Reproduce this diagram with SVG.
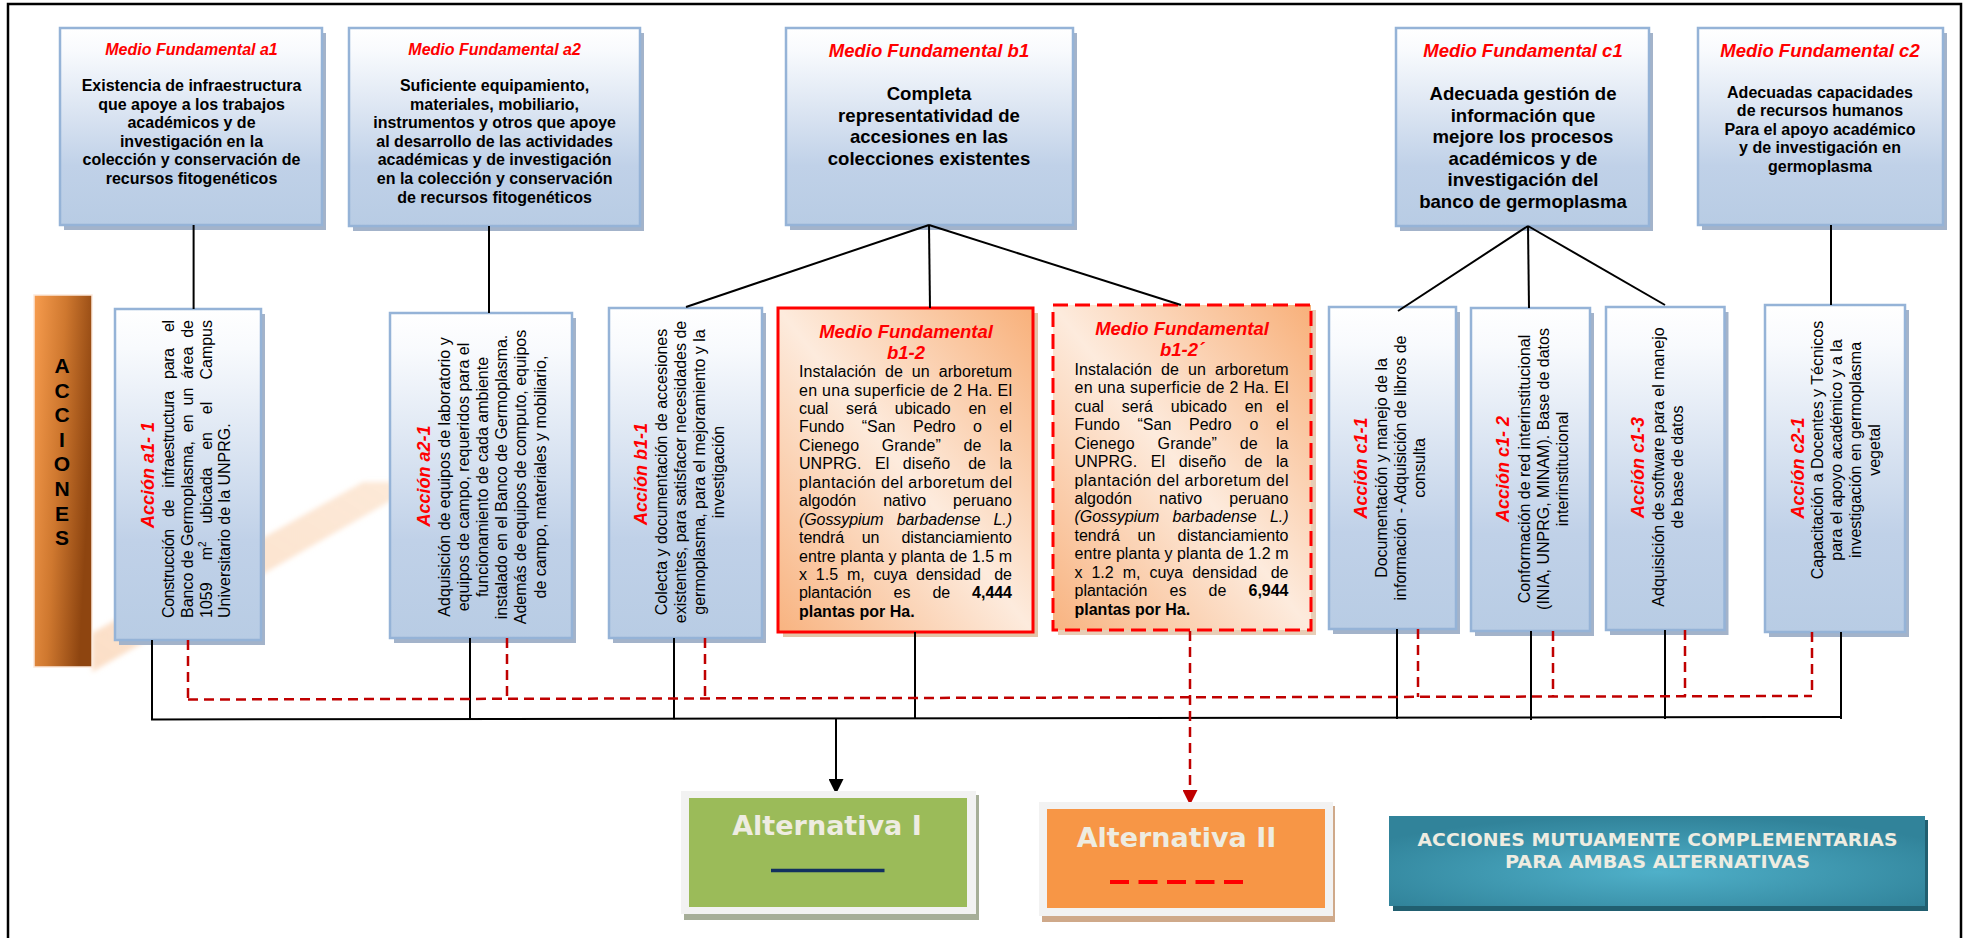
<svg xmlns="http://www.w3.org/2000/svg" width="1969" height="938" viewBox="0 0 1969 938">
<defs>
<linearGradient id="gBlue" x1="0" y1="0" x2="0" y2="1">
<stop offset="0" stop-color="#FFFFFF"/><stop offset="0.12" stop-color="#F8FAFD"/><stop offset="0.7" stop-color="#C0D1E8"/><stop offset="1" stop-color="#B8CCE4"/>
</linearGradient>
<linearGradient id="gOr" x1="1" y1="0" x2="0" y2="1">
<stop offset="0" stop-color="#F8B07A"/><stop offset="0.5" stop-color="#FDEBDD"/><stop offset="1" stop-color="#F8B380"/>
</linearGradient>
<linearGradient id="gBar" x1="0" y1="0" x2="1" y2="0.35">
<stop offset="0" stop-color="#F79C4E"/><stop offset="0.5" stop-color="#CF782F"/><stop offset="1" stop-color="#8E4510"/>
</linearGradient>
<linearGradient id="gBand" x1="0" y1="1" x2="1" y2="0">
<stop offset="0" stop-color="#FBD9BD" stop-opacity="0.85"/><stop offset="1" stop-color="#FCE1CA" stop-opacity="0.75"/>
</linearGradient>
<filter id="soft" x="-10%" y="-10%" width="120%" height="120%"><feGaussianBlur stdDeviation="2.5"/></filter>
<radialGradient id="gTeal" cx="0.5" cy="0.62" r="0.62">
<stop offset="0" stop-color="#4FB0C9"/><stop offset="1" stop-color="#31839A"/>
</radialGradient>
<marker id="arrK" viewBox="0 0 17 15" refX="0" refY="7.5" markerWidth="17" markerHeight="15" markerUnits="userSpaceOnUse" orient="auto"><path d="M0,0 L15,7.5 L0,15 z" fill="#000"/></marker>
<marker id="arrR" viewBox="0 0 17 15" refX="0" refY="7.5" markerWidth="17" markerHeight="15" markerUnits="userSpaceOnUse" orient="auto"><path d="M0,0 L15,7.5 L0,15 z" fill="#C00000"/></marker>
</defs>
<style>
.box{fill:url(#gBlue);stroke:#95B3D7;stroke-width:2.5}
.shd{fill:#A3B3CA}
.mt{font-family:'Liberation Sans',Arial,sans-serif;font-weight:bold;font-style:italic;fill:#FF0000;text-anchor:middle}
.mb{font-family:'Liberation Sans',Arial,sans-serif;font-weight:bold;fill:#000;text-anchor:middle}
.at{font-family:'Liberation Sans',Arial,sans-serif;font-weight:bold;font-style:italic;font-size:18px;fill:#FF0000;text-anchor:middle}
.ab{font-family:'Liberation Sans',Arial,sans-serif;font-size:16px;fill:#000;text-anchor:middle}
.aj{font-family:'Liberation Sans',Arial,sans-serif;font-size:16px;fill:#000;white-space:pre}
.conn{stroke:#000;stroke-width:2;fill:none}
.dash{stroke:#C00000;stroke-width:2.5;stroke-dasharray:10 6;fill:none}
.alt{font-family:'DejaVu Sans',Verdana,sans-serif;font-weight:bold;fill:#EEECE1;text-anchor:middle}
</style>
<rect x="8" y="4" width="1953" height="960" fill="#FFFFFF" stroke="#000" stroke-width="2.5"/>

<g id="band"><polygon points="92,633 363,482 392,482 392,500 92,672" fill="url(#gBand)" filter="url(#soft)"/></g>

<g id="acciones-label">
<rect x="34" y="295" width="58" height="372" fill="url(#gBar)" stroke="#FBE9DB" stroke-width="1.5"/>
<g font-family="'Liberation Sans',Arial,sans-serif" font-weight="bold" font-size="21" text-anchor="middle" fill="#000">
<text x="62" y="373">A</text><text x="62" y="397.6">C</text><text x="62" y="422.2">C</text><text x="62" y="446.8">I</text><text x="62" y="471.4">O</text><text x="62" y="496">N</text><text x="62" y="520.6">E</text><text x="62" y="545.2">S</text>
</g>
</g>

<g id="mf-a1">
<rect class="shd" x="64" y="33" width="262" height="197"/>
<rect class="box" x="60" y="28" width="262" height="197"/>
<text class="mt" x="191.5" y="55" font-size="16">Medio Fundamental a1</text>
<text class="mb" font-size="16"><tspan x="191.5" y="91">Existencia de infraestructura</tspan><tspan x="191.5" y="109.6">que apoye a los trabajos</tspan><tspan x="191.5" y="128.2">académicos y de</tspan><tspan x="191.5" y="146.8">investigación en la</tspan><tspan x="191.5" y="165.4">colección y conservación de</tspan><tspan x="191.5" y="184">recursos fitogenéticos</tspan></text>
</g>

<g id="mf-a2">
<rect class="shd" x="353" y="33" width="291" height="198"/>
<rect class="box" x="349" y="28" width="291" height="198"/>
<text class="mt" x="494.6" y="55" font-size="16">Medio Fundamental a2</text>
<text class="mb" font-size="16"><tspan x="494.6" y="91">Suficiente equipamiento,</tspan><tspan x="494.6" y="109.6">materiales, mobiliario,</tspan><tspan x="494.6" y="128.2">instrumentos y otros que apoye</tspan><tspan x="494.6" y="146.8">al desarrollo de las actividades</tspan><tspan x="494.6" y="165.4">académicas y de investigación</tspan><tspan x="494.6" y="184">en la colección y conservación</tspan><tspan x="494.6" y="202.6">de recursos fitogenéticos</tspan></text>
</g>

<g id="mf-b1">
<rect class="shd" x="790" y="33" width="287" height="197"/>
<rect class="box" x="786" y="28" width="287" height="197"/>
<text class="mt" x="929" y="56.5" font-size="18.5">Medio Fundamental b1</text>
<text class="mb" font-size="18.6"><tspan x="929" y="100">Completa</tspan><tspan x="929" y="121.5">representatividad de</tspan><tspan x="929" y="143">accesiones en las</tspan><tspan x="929" y="164.5">colecciones existentes</tspan></text>
</g>

<g id="mf-c1">
<rect class="shd" x="1400" y="33" width="253" height="198"/>
<rect class="box" x="1396" y="28" width="253" height="198"/>
<text class="mt" x="1523" y="56.5" font-size="18.5">Medio Fundamental c1</text>
<text class="mb" font-size="18.6"><tspan x="1523" y="100">Adecuada gestión de</tspan><tspan x="1523" y="121.5">información que</tspan><tspan x="1523" y="143">mejore los procesos</tspan><tspan x="1523" y="164.5">académicos y de</tspan><tspan x="1523" y="186">investigación del</tspan><tspan x="1523" y="207.5">banco de germoplasma</tspan></text>
</g>

<g id="mf-c2">
<rect class="shd" x="1702" y="33" width="245" height="197"/>
<rect class="box" x="1698" y="28" width="245" height="197"/>
<text class="mt" x="1820" y="56.5" font-size="18.5">Medio Fundamental c2</text>
<text class="mb" font-size="16"><tspan x="1820" y="97.5">Adecuadas capacidades</tspan><tspan x="1820" y="116">de recursos humanos</tspan><tspan x="1820" y="134.5">Para el apoyo académico</tspan><tspan x="1820" y="153">y de investigación en</tspan><tspan x="1820" y="171.5">germoplasma</tspan></text>
</g>

<g id="accion-a1-1">
<rect class="shd" x="119" y="314" width="146" height="331"/>
<rect class="box" x="115" y="309" width="146" height="331"/>
<text class="at" transform="translate(154,475) rotate(-90)">Acción a1- 1</text>
<text class="aj" xml:space="preserve" transform="translate(173.5,618) rotate(-90)" textLength="298" lengthAdjust="spacing">Construcción   de   infraestructura   para    el</text>
<text class="aj" xml:space="preserve" transform="translate(192.5,618) rotate(-90)" textLength="298" lengthAdjust="spacing">Banco de Germoplasma,  en  un  área  de</text>
<text class="aj" xml:space="preserve" transform="translate(211.5,618) rotate(-90)" textLength="298" lengthAdjust="spacing">1059     m<tspan dy="-6" font-size="10">2</tspan><tspan dy="6">    ubicada    en    el     Campus</tspan></text>
<text class="aj" transform="translate(230,618) rotate(-90)">Universitario de la UNPRG.</text>
</g>

<g id="accion-a2-1">
<rect class="shd" x="394" y="318" width="182" height="325"/>
<rect class="box" x="390" y="313" width="182" height="325"/>
<text class="at" transform="translate(429.5,476) rotate(-90)">Acción a2-1</text>
<g transform="translate(0,477) rotate(-90)">
<text class="ab" x="0" y="449.5">Adquisición de equipos de laboratorio y</text>
<text class="ab" x="0" y="468.7">equipos de campo, requeridos para el</text>
<text class="ab" x="0" y="487.9">funcionamiento de cada ambiente</text>
<text class="ab" x="0" y="507.1">instalado en el Banco de Germoplasma.</text>
<text class="ab" x="0" y="526.3">Además de equipos de computo, equipos</text>
<text class="ab" x="0" y="545.5">de campo, materiales y mobiliario,</text>
</g>
</g>

<g id="accion-b1-1">
<rect class="shd" x="613" y="313" width="153" height="330"/>
<rect class="box" x="609" y="308" width="153" height="330"/>
<text class="at" transform="translate(647,474) rotate(-90)">Acción b1-1</text>
<g transform="translate(0,472) rotate(-90)">
<text class="ab" x="0" y="667">Colecta y documentación de accesiones</text>
<text class="ab" x="0" y="686">existentes, para satisfacer necesidades de</text>
<text class="ab" x="0" y="705">germoplasma, para el mejoramiento y la</text>
<text class="ab" x="0" y="724">investigación</text>
</g>
</g>

<g id="mf-b1-2">
<rect x="783" y="313" width="255" height="324" fill="#E3C3A6"/>
<rect x="778" y="308" width="255" height="324" fill="url(#gOr)" stroke="#FF0000" stroke-width="3"/>
<text class="mt" x="906" y="337.5" font-size="18.5">Medio Fundamental</text>
<text class="mt" x="906" y="358.5" font-size="18.5">b1-2</text>
<g font-family="'Liberation Sans',Arial,sans-serif" font-size="16" fill="#000">
<text xml:space="preserve" x="799" y="377" textLength="213" lengthAdjust="spacing" style="white-space:pre">Instalación  de  un  arboretum</text>
<text xml:space="preserve" x="799" y="395.5" textLength="213" lengthAdjust="spacing" style="white-space:pre">en una superficie de 2 Ha. El</text>
<text xml:space="preserve" x="799" y="413.9" textLength="213" lengthAdjust="spacing" style="white-space:pre">cual    será    ubicado    en   el</text>
<text xml:space="preserve" x="799" y="432.4" textLength="213" lengthAdjust="spacing" style="white-space:pre">Fundo    “San    Pedro    o    el</text>
<text xml:space="preserve" x="799" y="450.8" textLength="213" lengthAdjust="spacing" style="white-space:pre">Cienego     Grande”     de    la</text>
<text xml:space="preserve" x="799" y="469.3" textLength="213" lengthAdjust="spacing" style="white-space:pre">UNPRG.   El   diseño    de   la</text>
<text xml:space="preserve" x="799" y="487.7" textLength="213" lengthAdjust="spacing" style="white-space:pre">plantación del arboretum del</text>
<text xml:space="preserve" x="799" y="506.2" textLength="213" lengthAdjust="spacing" style="white-space:pre">algodón      nativo      peruano</text>
<text xml:space="preserve" x="799" y="524.6" textLength="213" lengthAdjust="spacing" style="white-space:pre" font-style="italic">(Gossypium   barbadense   L.)</text>
<text xml:space="preserve" x="799" y="543.1" textLength="213" lengthAdjust="spacing" style="white-space:pre">tendrá    un     distanciamiento</text>
<text xml:space="preserve" x="799" y="561.5" textLength="213" lengthAdjust="spacing" style="white-space:pre">entre planta y planta de 1.5 m</text>
<text xml:space="preserve" x="799" y="580" textLength="213" lengthAdjust="spacing" style="white-space:pre">x  1.5  m,  cuya  densidad   de</text>
<text xml:space="preserve" x="799" y="598.4" textLength="213" lengthAdjust="spacing" style="white-space:pre">plantación     es     de     <tspan font-weight="bold">4,444</tspan></text>
<text x="799" y="616.9" font-weight="bold">plantas por Ha.</text>
</g>
</g>

<g id="mf-b1-2p">
<rect x="1058" y="310" width="258" height="325" fill="#E8CDB6"/>
<rect x="1053" y="305" width="258" height="325" fill="url(#gOr)" stroke="#FF0000" stroke-width="3" stroke-dasharray="15 7"/>
<text class="mt" x="1182" y="334.5" font-size="18.5">Medio Fundamental</text>
<text class="mt" x="1182" y="355.5" font-size="18.5">b1-2´</text>
<g font-family="'Liberation Sans',Arial,sans-serif" font-size="16" fill="#000">
<text xml:space="preserve" x="1074.5" y="374.8" textLength="214" lengthAdjust="spacing" style="white-space:pre">Instalación  de  un  arboretum</text>
<text xml:space="preserve" x="1074.5" y="393.2" textLength="214" lengthAdjust="spacing" style="white-space:pre">en una superficie de 2 Ha. El</text>
<text xml:space="preserve" x="1074.5" y="411.7" textLength="214" lengthAdjust="spacing" style="white-space:pre">cual    será    ubicado    en   el</text>
<text xml:space="preserve" x="1074.5" y="430.1" textLength="214" lengthAdjust="spacing" style="white-space:pre">Fundo    “San    Pedro    o    el</text>
<text xml:space="preserve" x="1074.5" y="448.6" textLength="214" lengthAdjust="spacing" style="white-space:pre">Cienego     Grande”     de    la</text>
<text xml:space="preserve" x="1074.5" y="467" textLength="214" lengthAdjust="spacing" style="white-space:pre">UNPRG.   El   diseño    de   la</text>
<text xml:space="preserve" x="1074.5" y="485.5" textLength="214" lengthAdjust="spacing" style="white-space:pre">plantación del arboretum del</text>
<text xml:space="preserve" x="1074.5" y="503.9" textLength="214" lengthAdjust="spacing" style="white-space:pre">algodón      nativo      peruano</text>
<text xml:space="preserve" x="1074.5" y="522.4" textLength="214" lengthAdjust="spacing" style="white-space:pre" font-style="italic">(Gossypium   barbadense   L.)</text>
<text xml:space="preserve" x="1074.5" y="540.8" textLength="214" lengthAdjust="spacing" style="white-space:pre">tendrá    un     distanciamiento</text>
<text xml:space="preserve" x="1074.5" y="559.3" textLength="214" lengthAdjust="spacing" style="white-space:pre">entre planta y planta de 1.2 m</text>
<text xml:space="preserve" x="1074.5" y="577.7" textLength="214" lengthAdjust="spacing" style="white-space:pre">x  1.2  m,  cuya  densidad   de</text>
<text xml:space="preserve" x="1074.5" y="596.2" textLength="214" lengthAdjust="spacing" style="white-space:pre">plantación     es     de     <tspan font-weight="bold">6,944</tspan></text>
<text x="1074.5" y="614.6" font-weight="bold">plantas por Ha.</text>
</g>
</g>

<g id="accion-c1-1">
<rect class="shd" x="1333" y="312" width="127" height="322"/>
<rect class="box" x="1329" y="307" width="127" height="322"/>
<text class="at" transform="translate(1366.5,468) rotate(-90)">Acción c1-1</text>
<g transform="translate(0,468) rotate(-90)">
<text class="ab" x="0" y="1386.5">Documentación y manejo de la</text>
<text class="ab" x="0" y="1406">información - Adquisición de libros de</text>
<text class="ab" x="0" y="1425">consulta</text>
</g>
</g>

<g id="accion-c1-2">
<rect class="shd" x="1475" y="313" width="119" height="323"/>
<rect class="box" x="1471" y="308" width="119" height="323"/>
<text class="at" transform="translate(1509,469) rotate(-90)">Acción c1- 2</text>
<g transform="translate(0,469) rotate(-90)">
<text class="ab" x="0" y="1529.5">Conformación de red interinstitucional</text>
<text class="ab" x="0" y="1548.5">(INIA, UNPRG, MINAM). Base de datos</text>
<text class="ab" x="0" y="1567.5">interinstitucional</text>
</g>
</g>

<g id="accion-c1-3">
<rect class="shd" x="1610" y="312" width="118.5" height="323"/>
<rect class="box" x="1606" y="307" width="118.5" height="323"/>
<text class="at" transform="translate(1643.5,467.5) rotate(-90)">Acción c1-3</text>
<g transform="translate(0,467) rotate(-90)">
<text class="ab" x="0" y="1664">Adquisición de software para el manejo</text>
<text class="ab" x="0" y="1683">de base de datos</text>
</g>
</g>

<g id="accion-c2-1">
<rect class="shd" x="1769" y="310" width="140" height="327"/>
<rect class="box" x="1765" y="305" width="140" height="327"/>
<text class="at" transform="translate(1803.5,468) rotate(-90)">Acción c2-1</text>
<g transform="translate(0,450) rotate(-90)">
<text class="ab" x="0" y="1823">Capacitación a Docentes y Técnicos</text>
<text class="ab" x="0" y="1842">para el apoyo académico y a la</text>
<text class="ab" x="0" y="1861">investigación en germoplasma</text>
<text class="ab" x="0" y="1880">vegetal</text>
</g>
</g>

<g id="connectors">
<line class="conn" x1="193.6" y1="225" x2="193.6" y2="309"/>
<line class="conn" x1="489" y1="226" x2="489" y2="313"/>
<line class="conn" x1="929" y1="225" x2="686" y2="307"/>
<line class="conn" x1="929" y1="225" x2="930" y2="308"/>
<line class="conn" x1="929" y1="225" x2="1181" y2="305"/>
<line class="conn" x1="1528" y1="226" x2="1398" y2="311"/>
<line class="conn" x1="1528" y1="226" x2="1529" y2="308"/>
<line class="conn" x1="1528" y1="226" x2="1665" y2="305"/>
<line class="conn" x1="1831" y1="225" x2="1831" y2="305"/>
<line class="conn" x1="152" y1="640" x2="152" y2="719.5"/>
<line class="conn" x1="470" y1="638" x2="470" y2="719.3"/>
<line class="conn" x1="674" y1="638" x2="674" y2="719.2"/>
<line class="conn" x1="915" y1="632" x2="915" y2="719"/>
<line class="conn" x1="1397" y1="629" x2="1397" y2="719"/>
<line class="conn" x1="1531" y1="631" x2="1531" y2="720"/>
<line class="conn" x1="1665" y1="630" x2="1665" y2="719"/>
<line class="conn" x1="1841" y1="632" x2="1841" y2="719"/>
<line class="conn" x1="151" y1="719.5" x2="1842" y2="717"/>
<line class="conn" x1="836" y1="719" x2="836" y2="779" marker-end="url(#arrK)"/>
<line class="dash" x1="188" y1="640" x2="188" y2="699.5"/>
<line class="dash" x1="507" y1="638" x2="507" y2="699.5"/>
<line class="dash" x1="705" y1="638" x2="705" y2="699"/>
<line class="dash" x1="1418" y1="629" x2="1418" y2="697"/>
<line class="dash" x1="1553" y1="631" x2="1553" y2="696.5"/>
<line class="dash" x1="1685" y1="630" x2="1685" y2="696.5"/>
<line class="dash" x1="1812" y1="632" x2="1812" y2="696"/>
<line class="dash" x1="188" y1="699.5" x2="1812" y2="696"/>
<line class="dash" x1="1190" y1="631" x2="1190" y2="790" marker-end="url(#arrR)"/>
</g>

<g id="alternativa-1">
<rect x="684" y="795" width="295" height="125" fill="#A6AE98"/>
<rect x="681" y="791" width="295" height="123" fill="#F2F2F2"/>
<rect x="689" y="798" width="278" height="109" fill="#9BBB59"/>
<text class="alt" x="827" y="835" font-size="27">Alternativa I</text>
<line x1="771" y1="870.5" x2="884.5" y2="870.5" stroke="#12305F" stroke-width="3.5"/>
</g>

<g id="alternativa-2">
<rect x="1042" y="806" width="293" height="116" fill="#CFA98A"/>
<rect x="1039" y="802" width="294" height="114" fill="#F2F2F2"/>
<rect x="1047" y="809" width="278" height="99" fill="#F79646"/>
<text class="alt" x="1176.5" y="847" font-size="27">Alternativa II</text>
<line x1="1110" y1="882" x2="1243" y2="882" stroke="#FF0000" stroke-width="4" stroke-dasharray="19 9.5"/>
</g>

<g id="complementarias">
<rect x="1393" y="820" width="535" height="91" fill="#215F70"/>
<rect x="1389" y="816" width="536" height="90" fill="url(#gTeal)"/>
<text class="alt" x="1657.5" y="845.5" font-size="18.5" textLength="480" lengthAdjust="spacingAndGlyphs">ACCIONES MUTUAMENTE COMPLEMENTARIAS</text>
<text class="alt" x="1657.5" y="868.3" font-size="18.5" textLength="305" lengthAdjust="spacingAndGlyphs">PARA AMBAS ALTERNATIVAS</text>
</g>
</svg>
